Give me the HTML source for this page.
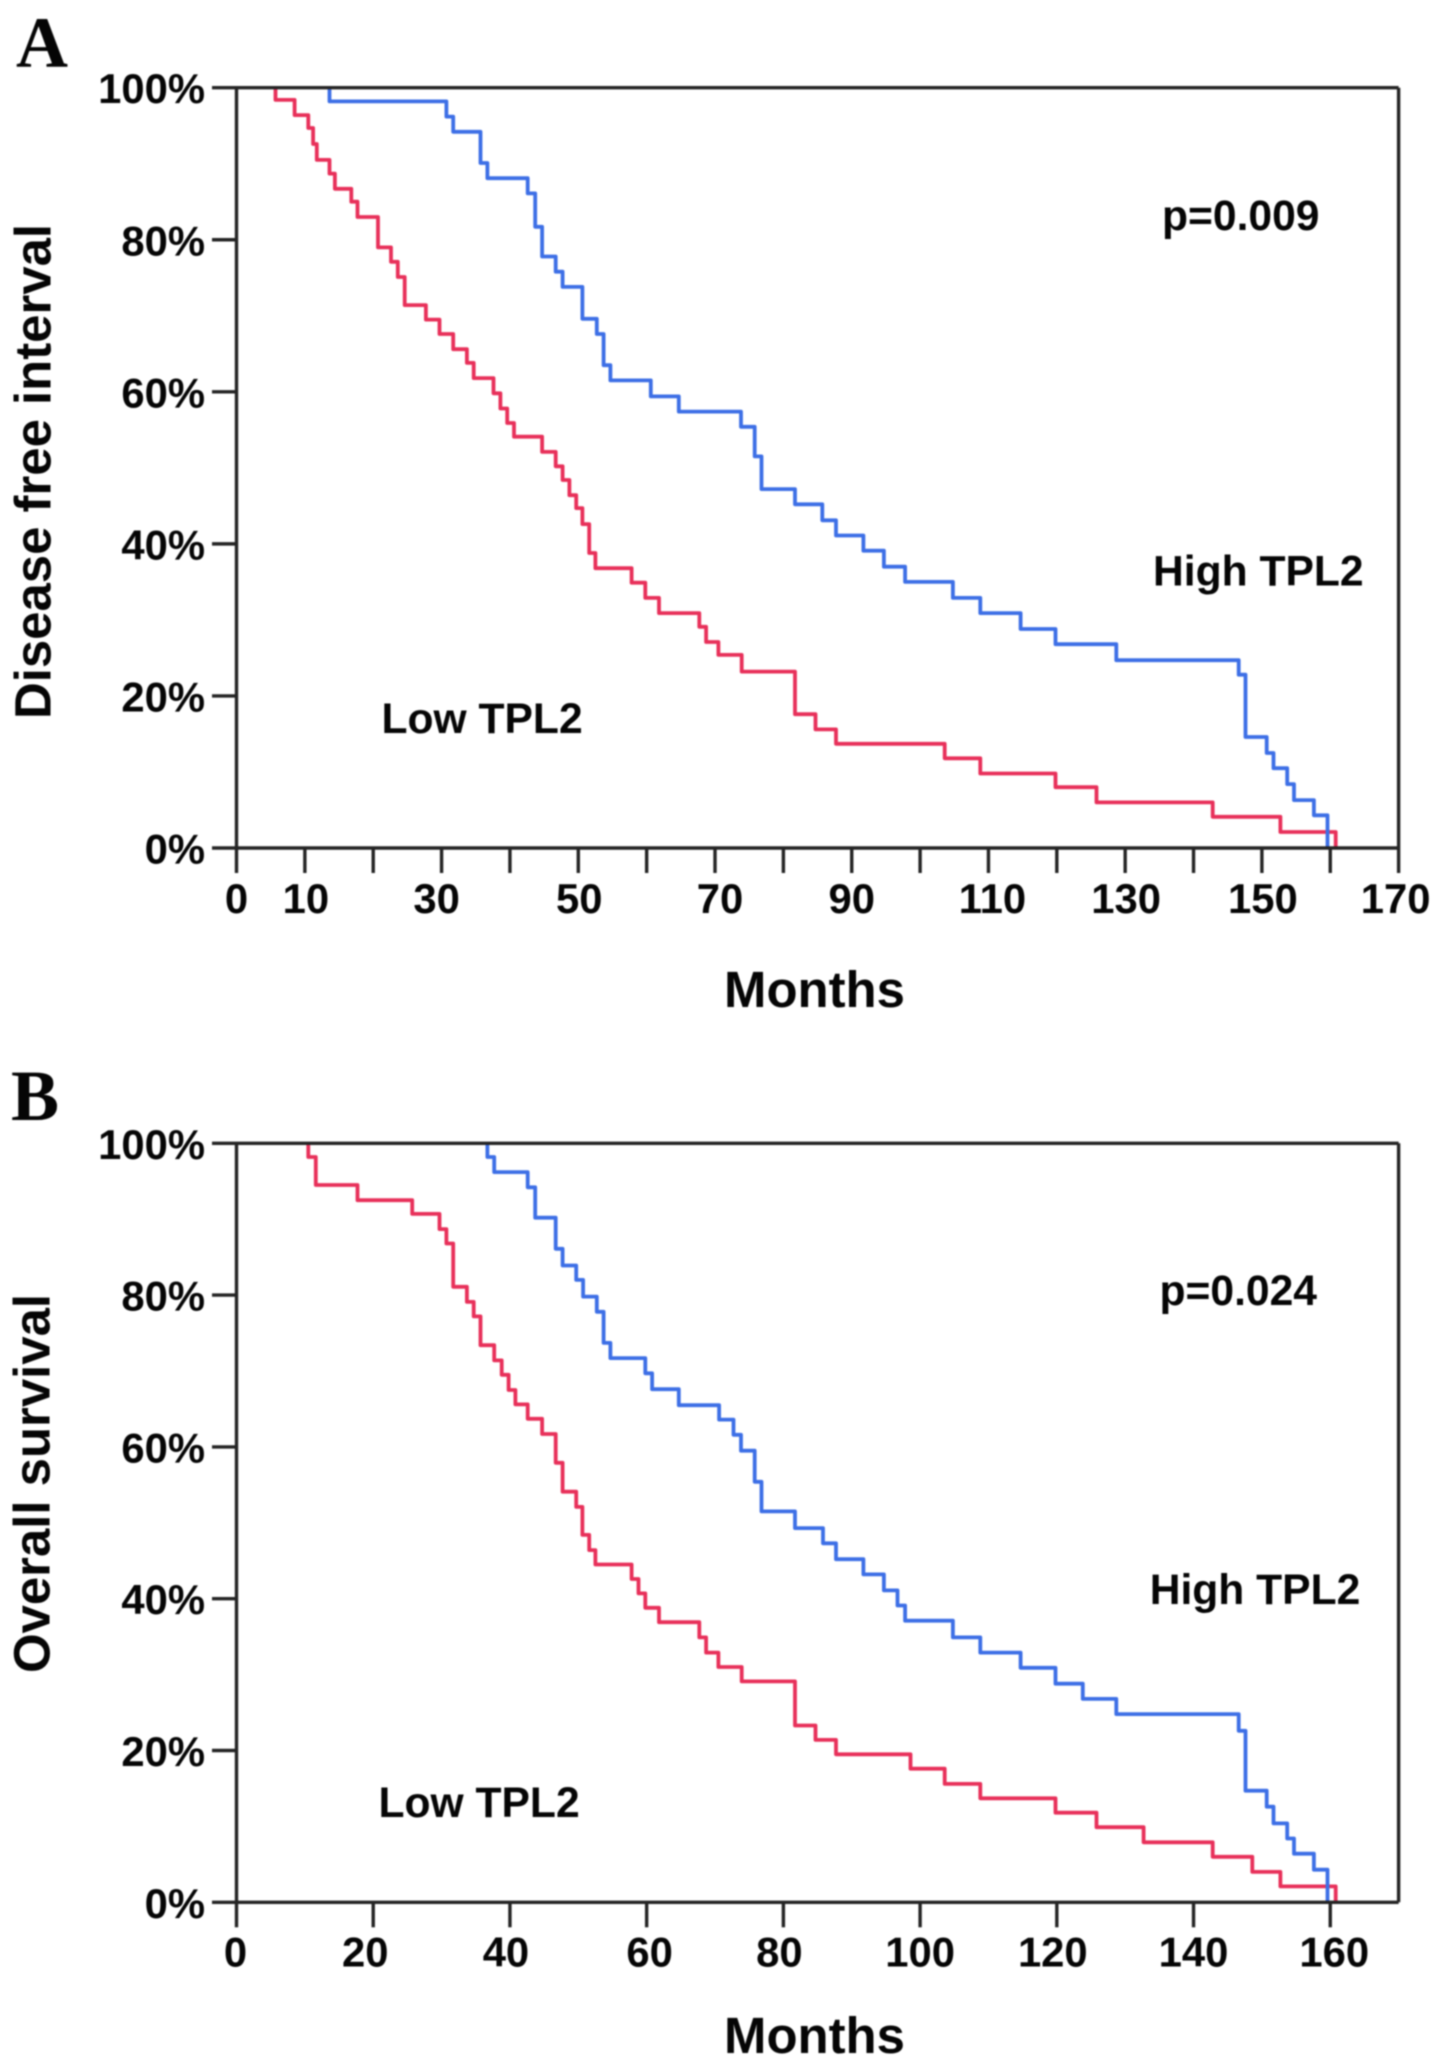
<!DOCTYPE html>
<html lang="en">
<head>
<meta charset="utf-8">
<title>Kaplan-Meier curves by TPL2 expression</title>
<style>
html,body{margin:0;padding:0;background:#fff;}
#figure{display:block;width:1441px;height:2067px;filter:blur(0.7px);}
text{font-family:"Liberation Sans",Arial,sans-serif;font-weight:700;fill:#050505;}
.letter{font-family:"Liberation Serif","Times New Roman",serif;font-size:72px;}
.tick{font-size:41.8px;}
.note{font-size:42.6px;}
.title{font-size:50.9px;}
</style>
</head>
<body>
<svg id="figure" xmlns="http://www.w3.org/2000/svg" width="1441" height="2067" viewBox="0 0 1441 2067">
  <rect width="1441" height="2067" fill="#ffffff"/>
  <g id="panel-a">
    <text class="letter" x="16" y="67">A</text>
    <text class="title" transform="translate(50.5 471.5) rotate(-90)" text-anchor="middle">Disease free interval</text>
    <text class="title" x="814.5" y="1007" text-anchor="middle">Months</text>
    <text class="note" x="1162" y="230">p=0.009</text>
    <text class="note" x="1153" y="585.7">High TPL2</text>
    <text class="note" x="381.5" y="733">Low TPL2</text>
  </g>
  <g id="panel-b">
    <text class="letter" x="11" y="1120">B</text>
    <text class="title" transform="translate(49.6 1483.5) rotate(-90)" text-anchor="middle">Overall survival</text>
    <text class="title" x="814.5" y="2053" text-anchor="middle">Months</text>
    <text class="note" x="1159.5" y="1305">p=0.024</text>
    <text class="note" x="1149.7" y="1604">High TPL2</text>
    <text class="note" x="378.5" y="1817">Low TPL2</text>
  </g>
</svg>
<script>
// Panel A: disease free interval. Each time is paired with the survival % reached at that drop.
const lowTimesA = [5.7,8.5,10.5,11.2,11.75,13.6,14.4,16.8,17.7,20.7,22.6,23.6,24.6,27.7,29.7,31.7,33.7,34.7,37.6,38.6,39.6,40.6,44.7,46.7,47.7,48.7,49.7,50.6,51.6,52.5,57.8,59.8,61.8,67.7,68.7,70.5,73.9,81.7,84.7,87.7,103.6,108.8,119.8,125.8,142.8,152.7,160.8];
const lowSurvA = [98.4,96.4,94.7,92.6,90.5,88.7,86.7,85,83,79,77.1,75.1,71.4,69.5,67.6,65.6,63.8,61.8,59.8,57.8,55.9,54.1,52.1,50.2,48.4,46.4,44.7,42.6,38.8,36.8,34.9,32.9,30.9,29.1,27.1,25.4,23.2,17.6,15.6,13.7,11.8,9.8,8,6,4.1,2.1,0];
const highTimesA = [13.6,30.7,31.7,35.7,36.7,42.6,43.7,44.7,46.7,47.7,50.6,52.7,53.7,54.7,60.6,64.7,73.8,75.8,76.8,81.7,85.7,87.7,91.7,94.7,97.8,104.8,108.8,114.7,119.8,128.7,146.6,147.6,150.7,151.7,153.7,154.7,157.6,159.6];
const highSurvA = [98.2,96.2,94.2,90.1,88.1,86.1,81.7,77.8,75.8,73.8,69.6,67.6,63.5,61.5,59.4,57.4,55.4,51.5,47.2,45.2,43.1,41.1,39.1,37,35,32.9,30.9,28.8,26.8,24.7,22.8,14.6,12.5,10.5,8.4,6.3,4.3,0];
const xTickValuesA = [0,10,20,30,40,50,60,70,80,90,100,110,120,130,140,150,160,170];
const xTickLabelsA = [0,10,30,50,70,90,110,130,150,170];

// Panel B: overall survival.
const lowTimesB = [10.5,11.6,17.7,25.7,29.7,30.7,31.7,33.7,34.7,35.7,37.7,38.8,39.8,40.8,42.6,44.7,46.7,47.7,49.7,50.6,51.6,52.5,57.8,58.8,59.8,61.8,67.7,68.7,70.5,73.9,81.7,84.7,87.7,98.6,103.6,108.8,119.8,125.8,132.7,142.8,148.6,152.7,160.8];
const lowSurvB = [98.2,94.5,92.5,90.7,88.7,86.8,81.1,79.1,77.2,73.4,71.4,69.5,67.5,65.6,63.7,61.7,57.9,54.1,52.1,48.4,46.4,44.5,42.6,40.7,38.8,36.9,34.9,32.9,31,29.1,23.3,21.4,19.5,17.6,15.6,13.7,11.8,9.9,7.9,6,4,2.1,0];
const highTimesB = [36.7,37.7,42.6,43.7,46.7,47.7,49.7,50.7,52.7,53.7,54.7,59.8,60.8,64.7,70.6,72.7,73.8,75.8,76.8,81.7,85.8,87.7,91.7,94.7,96.7,97.8,104.8,108.8,114.7,119.8,123.8,128.7,146.6,147.6,150.7,151.7,153.7,154.7,157.6,159.6];
const highSurvB = [98.2,96.2,94.2,90.2,86.1,83.9,82,79.8,77.8,73.7,71.7,69.7,67.6,65.5,63.6,61.6,59.5,55.4,51.5,49.3,47.3,45.2,43.2,41.1,39.1,37.1,34.9,32.9,30.9,28.8,26.8,24.8,22.6,14.7,12.6,10.4,8.4,6.4,4.3,0];
const xTickValuesB = [0,20,40,60,80,100,120,140,160];
const xTickLabelsB = [0,20,40,60,80,100,120,140,160];

const yTickValues = [0,20,40,60,80,100];

const SVG_NS = 'http://www.w3.org/2000/svg';
const INK = '#242424';
const RED = '#e8305a';
const BLUE = '#3d6fe6';

// The printed tick labels sit slightly off their ticks in the source figure (layout only).
const labelShiftA = {10:1,30:-5,50:1,70:5,110:4,130:1,150:1,170:-3};
const labelShiftB = {0:-1,20:-8,40:-4,60:3,80:-4,120:-4,160:4};

function xScale(months) { return 236.5 + months * 6.836; }
function yScaleA(pct) { return 848 - pct * 7.603; }
function yScaleB(pct) { return 1902.3 - pct * 7.59; }

function stepPath(times, surv, y) {
  let d = 'M' + xScale(times[0]).toFixed(1) + ' ' + y(100).toFixed(1);
  times.forEach(function (t, i) {
    d += 'V' + y(surv[i]).toFixed(1);
    if (i < times.length - 1) d += 'H' + xScale(times[i + 1]).toFixed(1);
  });
  return d;
}

function addLine(parent, x1, y1, x2, y2, name) {
  const el = document.createElementNS(SVG_NS, 'line');
  el.setAttribute('x1', x1);
  el.setAttribute('y1', y1);
  el.setAttribute('x2', x2);
  el.setAttribute('y2', y2);
  el.setAttribute('stroke', INK);
  el.setAttribute('stroke-width', '3.4');
  
  
  parent.appendChild(el);
}

function addLabel(parent, x, y, anchor, content, name) {
  const el = document.createElementNS(SVG_NS, 'text');
  el.setAttribute('class', 'tick');
  el.setAttribute('x', x);
  el.setAttribute('y', y);
  el.setAttribute('text-anchor', anchor);
  
  
  el.textContent = content;
  parent.appendChild(el);
}

function addCurve(parent, times, surv, y, color, name) {
  const el = document.createElementNS(SVG_NS, 'path');
  el.setAttribute('d', stepPath(times, surv, y));
  el.setAttribute('fill', 'none');
  el.setAttribute('stroke', color);
  el.setAttribute('stroke-width', '3.8');
  el.setAttribute('stroke-linejoin', 'round');
  
  
  parent.appendChild(el);
}

function drawPanel(id, y, lowT, lowS, highT, highS, xTicks, xLabels, shifts, baselineOffset) {
  const g = document.getElementById(id);
  addCurve(g, lowT, lowS, y, RED, id + '-low-tpl2-curve');
  addCurve(g, highT, highS, y, BLUE, id + '-high-tpl2-curve');
  const y0 = y(0);
  const yTop = y(100);
  const xL = xScale(0);
  const xR = xScale(170);
  addLine(g, xL, yTop, xL, y0, id + '-y-axis-line');
  addLine(g, xL, y0, xR, y0, id + '-x-axis-line');
  addLine(g, xL, yTop, xR, yTop, id + '-top-border');
  addLine(g, xR, yTop, xR, y0, id + '-right-border');
  yTickValues.forEach(function (v) {
    addLine(g, 212, y(v), xL, y(v), id + '-y-tick-' + v);
    addLabel(g, 205, y(v) + 15.5, 'end', v + '%', id + '-y-tick-label-' + v);
  });
  xTicks.forEach(function (v) {
    addLine(g, xScale(v), y0, xScale(v), y0 + 25, id + '-x-tick-' + v);
  });
  xLabels.forEach(function (v) {
    addLabel(g, xScale(v) + (shifts[v] || 0), y0 + baselineOffset, 'middle', String(v), id + '-x-tick-label-' + v);
  });
}

drawPanel('panel-a', yScaleA, lowTimesA, lowSurvA, highTimesA, highSurvA, xTickValuesA, xTickLabelsA, labelShiftA, 65);
drawPanel('panel-b', yScaleB, lowTimesB, lowSurvB, highTimesB, highSurvB, xTickValuesB, xTickLabelsB, labelShiftB, 64);
</script>
</body>
</html>
